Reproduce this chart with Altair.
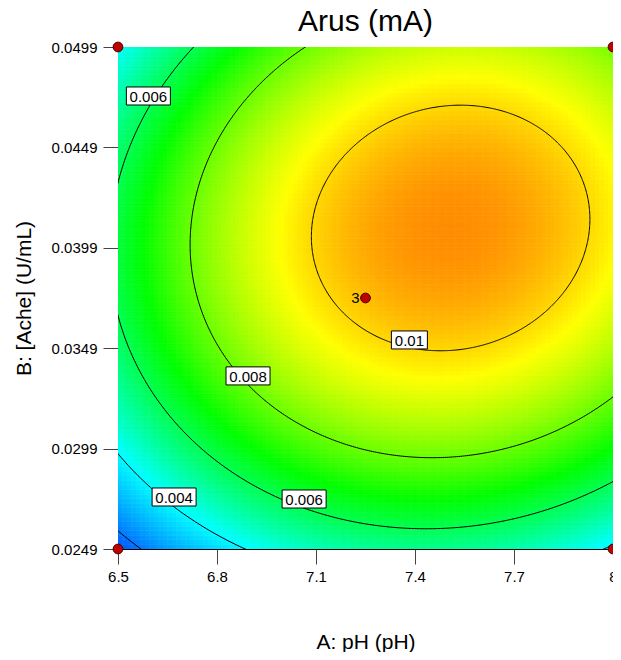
import numpy as np
import pandas as pd
import altair as alt

alt.data_transformers.disable_max_rows()

# ---- axes / factor ranges ----
ph_range = [6.5, 8.0]
ache_range = [0.0249, 0.0499]
x_ticks = [6.5, 6.8, 7.1, 7.4, 7.7, 8.0]
y_ticks = [0.0249, 0.0299, 0.0349, 0.0399, 0.0449, 0.0499]

# ---- fitted quadratic response surface (coded units) ----
peak_value = 0.0108           # response at the optimum
peak_coded = [0.344, 0.279]   # optimum location (coded A, coded B)
curvature = [0.00254, 0.00336]  # fall-off along A^2 and B^2
interaction = 0.00042         # AB term

# ---- contours and labels ----
contour_levels = [0.002, 0.004, 0.006, 0.008, 0.01]
label_text = ["0.006", "0.01", "0.008", "0.006", "0.004"]
label_ph = [6.592, 7.383, 6.894, 7.064, 6.670]
label_ache = [0.04746, 0.03531, 0.03352, 0.02739, 0.02749]
label_kind = ["long", "short", "long", "long", "long"]

# ---- design points ----
design_ph = [6.5, 6.5, 8.0, 8.0, 7.25]
design_ache = [0.0249, 0.0499, 0.0249, 0.0499, 0.0374]
design_reps = ["", "", "", "", "3"]

# ---- colour map ----
color_stops = [0.0002, 0.0041, 0.0069, 0.0096, 0.01227]
color_range = ["#0000ff", "#00ffff", "#00ff00", "#ffff00", "#ff0000"]

ph_mid = (ph_range[0] + ph_range[1]) / 2
ph_half = (ph_range[1] - ph_range[0]) / 2
ache_mid = (ache_range[0] + ache_range[1]) / 2
ache_half = (ache_range[1] - ache_range[0]) / 2


def response(A, B):
    e = A - peak_coded[0]
    d = B - peak_coded[1]
    return peak_value - curvature[0] * e ** 2 - curvature[1] * d ** 2 + interaction * e * d


# heat-map grid
n = 110
edges = np.linspace(-1, 1, n + 1)
cent = (edges[:-1] + edges[1:]) / 2
rows = []
for i in range(n):
    for j in range(n):
        rows.append({
            "x": ph_mid + ph_half * edges[i], "x2": ph_mid + ph_half * edges[i + 1],
            "y": ache_mid + ache_half * edges[j], "y2": ache_mid + ache_half * edges[j + 1],
            "v": response(cent[i], cent[j]),
        })
heat_df = pd.DataFrame(rows)

# contour lines (ellipses of the quadratic)
t = np.linspace(0, 2 * np.pi, 721)
c, s = np.cos(t), np.sin(t)
q = curvature[0] * c ** 2 + curvature[1] * s ** 2 - interaction * c * s
lines = []
for L in contour_levels:
    r = np.sqrt((peak_value - L) / q)
    A = peak_coded[0] + r * c
    B = peak_coded[1] + r * s
    for k in range(len(t)):
        lines.append({"level": str(L), "i": k,
                      "x": ph_mid + ph_half * A[k], "y": ache_mid + ache_half * B[k]})
line_df = pd.DataFrame(lines)

lab_df = pd.DataFrame({"x": label_ph, "y": label_ache, "t": label_text, "k": label_kind})
pts_df = pd.DataFrame({"x": design_ph, "y": design_ache, "t": design_reps})

FONT = "Liberation Sans"
xscale = alt.Scale(domain=ph_range, nice=False, zero=False)
yscale = alt.Scale(domain=ache_range, nice=False, zero=False)
cscale = alt.Scale(domain=color_stops, range=color_range, interpolate="rgb", clamp=True)

xaxis = alt.Axis(values=x_ticks, format="~g", tickSize=15, labelPadding=5, labelFontSize=15,
                 labelFont=FONT, labelColor="black", titleFont=FONT, titleFontSize=21,
                 titleFontWeight="normal", titleColor="black", titlePadding=47,
                 domainColor="black", tickColor="#444", grid=False, labelFlush=False,
                 labelOverlap=False)
yaxis = alt.Axis(values=y_ticks, format=".4f", tickSize=15, labelPadding=6, labelFontSize=15,
                 labelFont=FONT, labelColor="black", titleFont=FONT, titleFontSize=21,
                 titleFontWeight="normal", titleColor="black", titlePadding=17,
                 domainColor="black", tickColor="#444", grid=False, labelFlush=False,
                 labelOverlap=False)

heat = alt.Chart(heat_df).mark_rect(clip=True, strokeWidth=0.6).encode(
    x=alt.X("x:Q", scale=xscale, axis=xaxis, title="A: pH (pH)"),
    x2="x2:Q",
    y=alt.Y("y:Q", scale=yscale, axis=yaxis, title="B: [Ache] (U/mL)"),
    y2="y2:Q",
    color=alt.Color("v:Q", scale=cscale, legend=None),
    stroke=alt.Stroke("v:Q", scale=cscale, legend=None),
)

cont = alt.Chart(line_df).mark_line(clip=True, color="black", strokeWidth=1).encode(
    x=alt.X("x:Q", scale=xscale), y=alt.Y("y:Q", scale=yscale),
    detail="level:N", order="i:Q",
)

box_long = alt.Chart(lab_df).transform_filter(alt.datum.k == "long").mark_point(
    shape="M-1,-0.41H1V0.41H-1Z", size=1936, filled=True, color="white",
    stroke="black", strokeWidth=1, opacity=1,
).encode(x=alt.X("x:Q", scale=xscale), y=alt.Y("y:Q", scale=yscale))

box_short = alt.Chart(lab_df).transform_filter(alt.datum.k == "short").mark_point(
    shape="M-1,-0.5H1V0.5H-1Z", size=1296, filled=True, color="white",
    stroke="black", strokeWidth=1, opacity=1,
).encode(x=alt.X("x:Q", scale=xscale), y=alt.Y("y:Q", scale=yscale))

lab_txt = alt.Chart(lab_df).mark_text(font=FONT, fontSize=15, color="black",
                                      align="center", baseline="middle", dy=1).encode(
    x=alt.X("x:Q", scale=xscale), y=alt.Y("y:Q", scale=yscale), text="t:N")

pts = alt.Chart(pts_df).mark_circle(size=95, fill="#c00000", stroke="#400000",
                                    strokeWidth=1, opacity=1).encode(
    x=alt.X("x:Q", scale=xscale), y=alt.Y("y:Q", scale=yscale))

pt_txt = alt.Chart(pts_df).mark_text(font=FONT, fontSize=15, color="black",
                                     align="right", baseline="middle", dx=-6, dy=0).encode(
    x=alt.X("x:Q", scale=xscale), y=alt.Y("y:Q", scale=yscale), text="t:N")

chart = alt.layer(heat, cont, box_long, box_short, lab_txt, pts, pt_txt).properties(
    width=495, height=502,
    title=alt.TitleParams("Arus (mA)", font=FONT, fontSize=30, fontWeight="normal",
                          color="black", anchor="middle", offset=3),
    autosize=alt.AutoSizeParams(type="none"),
    padding={"left": 110, "top": 39, "right": 0, "bottom": 103},
).configure_view(stroke="#888", strokeWidth=1)

chart.save("out.html", embed_options={"renderer": "svg", "actions": False})
